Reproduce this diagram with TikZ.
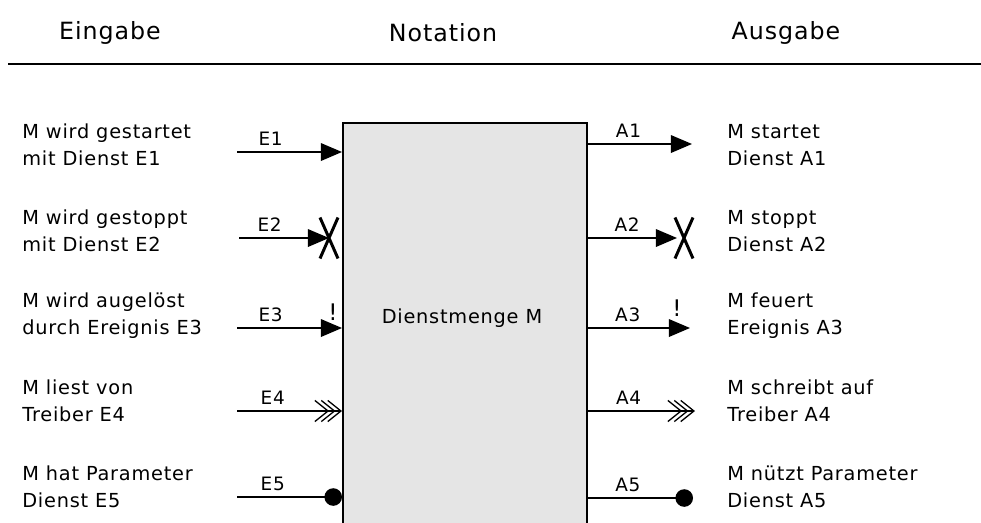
\documentclass[tikz,border=0pt]{standalone}
\usepackage{fontspec}
\setmainfont{DejaVu Sans}[LetterSpace=4]
\usetikzlibrary{arrows.meta,shapes.misc}

\tikzset{
	dienst/.style={draw, line width=1.1pt, fill=black!10, anchor=north west, minimum width=4.88cm, minimum height=8.6cm, inner sep=0pt},
	beschr/.style={font=\fontsize{11}{15.3}\selectfont, align=left, anchor=west, inner sep=0pt},
	kopf/.style={font=\fontsize{13.5}{16}\selectfont},
	marke/.style={font=\fontsize{10.5}{12}\selectfont, above},
	pfeil/.style={line width=0.9pt},
	stopx/.style={cross out, draw, line width=1.7pt, minimum width=0.3cm, minimum height=0.76cm, inner sep=0pt},
	ausruf/.style={font=\fontsize{13}{14}\selectfont, inner sep=0pt},
	spitze/.tip={Triangle[length=12pt, width=10pt]},
	punkt/.tip={Circle[length=10pt]},
	treiber/.tip={Straight Barb[length=7.5pt, width=12pt, line width=0.75pt, sep=-4.8pt]
		Straight Barb[length=7.5pt, width=12pt, line width=0.75pt, sep=-4.8pt]
		Straight Barb[length=7.5pt, width=12pt, line width=0.75pt]},
}

\begin{document}
\begin{tikzpicture}[x=0.02cm, y=-0.02cm]
	\useasboundingbox (0, 0) rectangle (981, 522);
	\clip (0, 0) rectangle (981, 522);

	% Kopfzeile
	\node[kopf] (eingabe) at (110, 33) {Eingabe};
	\node[kopf] (notation) at (443, 33) {Notation};
	\node[kopf] (ausgabe) at (786, 33) {Ausgabe};
	\draw[line width=1.1pt] (8, 64) -- (981, 64);

	% Dienstmenge
	\node[dienst] (M) at (342, 122) {};
	\node (name) at (462, 318) {\fontsize{11}{13}\selectfont Dienstmenge M};

	% Eingaben
	\coordinate (e1) at (237, 152);
	\coordinate (e2) at (239, 238);
	\coordinate (e3) at (237, 328);
	\coordinate (e4) at (237, 411);
	\coordinate (e5) at (237, 497);
	\node[stopx] (x2) at (329, 238) {};
	\node[ausruf] (r3) at (333, 312) {!};

	\draw[pfeil, -spitze] (e1) -- (M.west |- e1) node[marke, pos=0.32] {E1};
	\draw[pfeil, -spitze] (e2) -- (x2.center) node[marke, pos=0.34] {E2};
	\draw[pfeil, -spitze] (e3) -- (M.west |- e3) node[marke, pos=0.32] {E3};
	\draw[pfeil, -treiber] (e4) -- (M.west |- e4) node[marke, pos=0.34] {E4};
	\draw[pfeil, -punkt] (e5) -- (M.west |- e5) node[marke, pos=0.34] {E5};

	\node[beschr] (t1) at (22, 145) {M wird gestartet\\mit Dienst E1};
	\node[beschr] (t2) at (22, 231) {M wird gestoppt\\mit Dienst E2};
	\node[beschr] (t3) at (22, 316) {M wird augelöst\\durch Ereignis E3};
	\node[beschr] (t4) at (22, 401) {M liest von\\Treiber E4};
	\node[beschr] (t5) at (22, 487) {M hat Parameter\\Dienst E5};

	% Ausgaben
	\coordinate (a1) at (692, 144);
	\coordinate (a2) at (677, 238);
	\coordinate (a3) at (690, 328);
	\coordinate (a4) at (695, 411);
	\coordinate (a5) at (693, 498);
	\node[stopx] (y2) at (684, 238) {};
	\node[ausruf] (s3) at (677, 308) {!};

	\draw[pfeil, -spitze] (M.east |- a1) -- (a1) node[marke, pos=0.39] {A1};
	\draw[pfeil, -spitze] (M.east |- a2) -- (a2) node[marke, pos=0.44] {A2};
	\draw[pfeil, -spitze] (M.east |- a3) -- (a3) node[marke, pos=0.39] {A3};
	\draw[pfeil, -treiber] (M.east |- a4) -- (a4) node[marke, pos=0.38] {A4};
	\draw[pfeil, -punkt] (M.east |- a5) -- (a5) node[marke, pos=0.38] {A5};

	\node[beschr] (u1) at (727, 145) {M startet\\Dienst A1};
	\node[beschr] (u2) at (727, 231) {M stoppt\\Dienst A2};
	\node[beschr] (u3) at (727, 316) {M feuert\\Ereignis A3};
	\node[beschr] (u4) at (727, 401) {M schreibt auf\\Treiber A4};
	\node[beschr] (u5) at (727, 487) {M nützt Parameter\\Dienst A5};
\end{tikzpicture}
\end{document}
